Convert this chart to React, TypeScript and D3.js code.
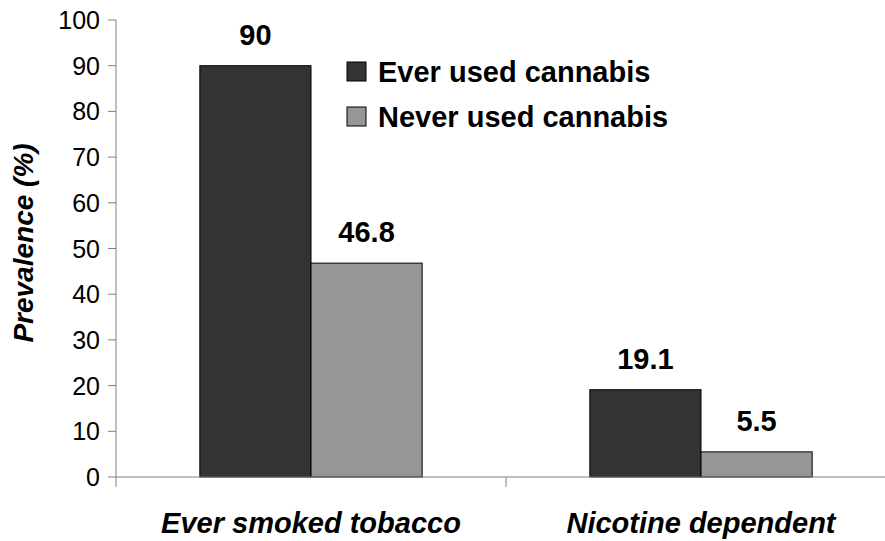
import React from "react";
import * as d3 from "d3";

const categories = ["Ever smoked tobacco", "Nicotine dependent"];
const seriesNames = ["Ever used cannabis", "Never used cannabis"];
const everUsed = [90, 19.1];
const neverUsed = [46.8, 5.5];
const valueLabels = [["90", "19.1"], ["46.8", "5.5"]];
const yTicks = [0, 10, 20, 30, 40, 50, 60, 70, 80, 90, 100];
const colors = ["#333333", "#969696"];

export default function App() {
  const W = 885, H = 541;
  const x0 = d3.scaleBand().domain(categories).range([116, 896]).paddingInner(0).paddingOuter(0);
  const y = d3.scaleLinear().domain([0, 100]).range([477, 20]);
  const groupW = x0.bandwidth() * 0.57;
  const x1 = d3.scaleBand().domain(seriesNames).range([0, groupW]);
  const series = [everUsed, neverUsed];
  const font = "Arial, 'Liberation Sans', sans-serif";

  return (
    <svg width={W} height={H} style={{ position: "absolute", left: 0, top: 0, background: "#fff" }} fontFamily={font}>
      <rect x={0} y={0} width={W} height={H} fill="#fff" />
      {categories.map((c, ci) => {
        const gx = (x0(c) as number) + (x0.bandwidth() - groupW) / 2;
        return series.map((s, si) => {
          const bx = gx + (x1(seriesNames[si]) as number);
          return (
            <g key={c + si}>
              <rect x={bx} y={y(s[ci])} width={x1.bandwidth()} height={y(0) - y(s[ci])}
                fill={colors[si]} stroke="#000" strokeWidth={1} />
              <text x={bx + x1.bandwidth() / 2} y={y(s[ci]) - 21} textAnchor="middle"
                fontSize={29} fontWeight="bold" fill="#000">{valueLabels[si][ci]}</text>
            </g>
          );
        });
      })}
      <line x1={116} x2={116} y1={y(100)} y2={487} stroke="#808080" strokeWidth={1} />
      {yTicks.map(t => (
        <g key={t}>
          <line x1={108} x2={116} y1={y(t)} y2={y(t)} stroke="#808080" strokeWidth={1} />
          <text x={100} y={y(t)} dy="0.36em" textAnchor="end" fontSize={25} fill="#000">{t}</text>
        </g>
      ))}
      <line x1={116} x2={W} y1={y(0)} y2={y(0)} stroke="#808080" strokeWidth={1} />
      {categories.map((c, ci) => ci > 0 ? (
        <line key={c} x1={x0(c) as number} x2={x0(c) as number} y1={y(0)} y2={487} stroke="#808080" strokeWidth={1} />
      ) : null)}
      {categories.map(c => (
        <text key={c} x={(x0(c) as number) + x0.bandwidth() / 2} y={533} textAnchor="middle"
          fontSize={29} fontWeight="bold" fontStyle="italic" fill="#000">{c}</text>
      ))}
      <text transform={`translate(33, 243) rotate(-90)`} textAnchor="middle"
        fontSize={28} fontWeight="bold" fontStyle="italic" fill="#000">Prevalence (%)</text>
      {seriesNames.map((n, i) => (
        <g key={n} transform={`translate(347, ${62 + i * 45})`}>
          <rect x={0} y={0} width={19} height={19} fill={colors[i]} stroke="#000" strokeWidth={1} />
          <text x={31} y={20} fontSize={29} fontWeight="bold" fill="#000">{n}</text>
        </g>
      ))}
    </svg>
  );
}
